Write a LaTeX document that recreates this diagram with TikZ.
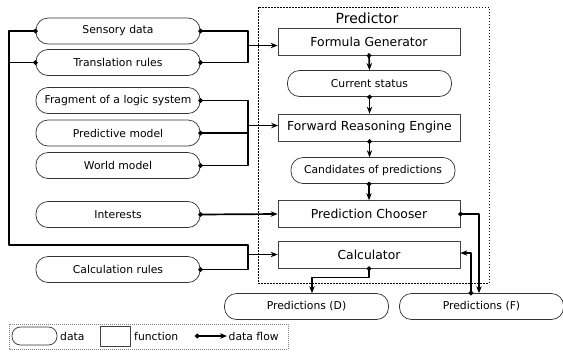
\documentclass[tikz,border=0pt]{standalone}
\usepackage{fontspec}
\setmainfont{DejaVu Sans}
\usetikzlibrary{arrows.meta}
\begin{document}
\begin{tikzpicture}[x=1pt, y=-1pt, line join=round,
	data/.style={draw=black!80, line width=0.7pt, rounded corners=12pt, minimum width=164pt, minimum height=26pt, inner sep=0pt, font=\fontsize{10.8}{12}\selectfont},
	func/.style={draw=black!75, line width=0.7pt, minimum width=182pt, minimum height=27pt, inner sep=0pt, font=\fontsize{12.4}{14}\selectfont},
	flowline/.style={line width=1.7pt},
	arr/.style={flowline, shorten <=-2pt, {Circle[length=4.5pt]}-{Stealth[length=7pt,width=5.5pt]}},
	arrnodot/.style={flowline, -{Stealth[length=7pt,width=5.5pt]}},
	bus/.style={flowline, shorten <=-2pt, shorten >=-2pt, {Circle[length=4.5pt]}-{Circle[length=4.5pt]}},
	tail/.style={flowline, shorten <=-2pt, {Circle[length=4.5pt]}-},
	legtext/.style={anchor=west, inner sep=0pt, font=\fontsize{10.8}{12}\selectfont}]
	\useasboundingbox (0,0) rectangle (563,354);
	% predictor frame
	\draw[line width=0.6pt, dash pattern=on 1.5pt off 1.5pt] (258,7) rectangle (489,283);
	\node[font=\fontsize{14}{16}\selectfont] (title) at (367,18) {Predictor};
	% inputs
	\node[data] (sens) at (118,31) {Sensory data};
	\node[data] (trans) at (118,62.5) {Translation rules};
	\node[data] (frag) at (118,100.5) {Fragment of a logic system};
	\node[data] (pmod) at (118,133) {Predictive model};
	\node[data] (world) at (118,165.5) {World model};
	\node[data] (inter) at (118,214.5) {Interests};
	\node[data] (calcr) at (118,269.5) {Calculation rules};
	% predictor
	\node[func] (fgen) at (369,41.5) {Formula Generator};
	\node[data] (cstat) at (369.5,83.5) {Current status};
	\node[func] (fre) at (369.5,127.5) {Forward Reasoning Engine};
	\node[data] (cand) at (373,170.5) {Candidates of predictions};
	\node[func] (chooser) at (369,214) {Prediction Chooser};
	\node[func] (calc) at (369,254.5) {Calculator};
	% outputs
	\node[data] (predD) at (306.5,306.5) {Predictions (D)};
	\node[data] (predF) at (481.5,306.5) {Predictions (F)};
	% junctions
	\coordinate (busA) at (248,45.5);
	\coordinate (busB) at (248,125.5);
	\coordinate (loopL) at (9,245);
	\coordinate (loopR) at (248,245);
	% flows
	\draw[bus] (sens.east) -| (busA) |- (trans.east);
	\draw[arrnodot] (busA) -- (busA -| fgen.west);
	\draw[bus] (frag.east) -| (busB) |- (world.east);
	\draw[tail] (pmod.east) -- (pmod.east -| busB);
	\draw[arrnodot] (busB) -- (busB -| fre.west);
	\draw[bus] (sens.west) -| (loopL) -- (loopR) |- (calcr.east);
	\draw[tail] (trans.west) -- (trans.west -| loopL);
	\draw[arrnodot] (calc.west -| loopR) -- (calc.west);
	\draw[arr] (inter.east) -- (chooser.west);
	\draw[arr] (fgen.south) -- (cstat.north);
	\draw[arr] (cstat.south) -- (fre.north);
	\draw[arr] (fre.south) -- (fre.south |- cand.north);
	\draw[arr] (cand.south -| chooser.north) -- (chooser.north);
	\draw[arr] (chooser.east) -| ([xshift=-2.5pt]predF.north);
	\draw[arr] ([xshift=-10.5pt]predF.north) |- ([yshift=1.5pt]calc.east);
	\draw[arr] (calc.south) -- ++(0,9) -| ([xshift=5.5pt]predD.north);
	% legend
	\draw[black!50, line width=0.6pt, dash pattern=on 1pt off 1pt] (9,324) rectangle (288,349);
	\node[data, minimum width=45pt, minimum height=18pt, rounded corners=8.5pt] (legdata) at (34.5,336) {};
	\node[legtext] (legdatatxt) at (60,336) {data};
	\node[func, minimum width=30pt, minimum height=20pt] (legfunc) at (115,336) {};
	\node[legtext] (legfunctxt) at (134,336) {function};
	\coordinate (legA) at (197,336);
	\coordinate (legB) at (227,336);
	\draw[arr] (legA) -- (legB);
	\node[legtext] (legflowtxt) at (228.5,336) {data flow};
\end{tikzpicture}
\end{document}
